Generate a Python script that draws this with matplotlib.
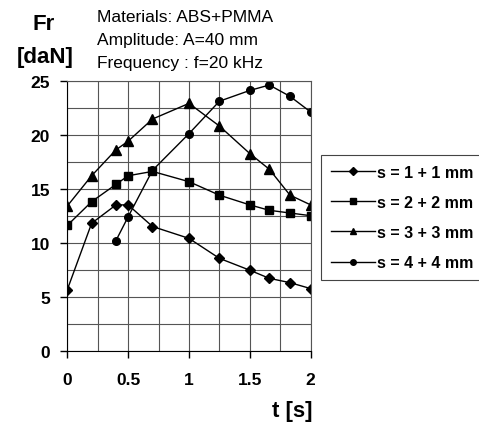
import matplotlib
matplotlib.use("Agg")
import matplotlib.pyplot as plt
from matplotlib.ticker import MultipleLocator

t = [0, 0.2, 0.4, 0.5, 0.7, 1.0, 1.25, 1.5, 1.66, 1.83, 2.0]
s1 = [5.65, 11.8, 13.5, 13.5, 11.5, 10.4, 8.55, 7.45, 6.7, 6.3, 5.75]
s2 = [11.6, 13.8, 15.4, 16.2, 16.6, 15.65, 14.4, 13.5, 13.0, 12.75, 12.5]
s3 = [13.4, 16.2, 18.6, 19.4, 21.45, 22.9, 20.8, 18.25, 16.8, 14.4, 13.5]
t4 = [0.4, 0.5, 0.7, 1.0, 1.25, 1.5, 1.66, 1.83, 2.0]
s4 = [10.2, 12.4, 16.7, 20.1, 23.1, 24.1, 24.6, 23.55, 22.1]
labels = ["s = 1 + 1 mm", "s = 2 + 2 mm", "s = 3 + 3 mm", "s = 4 + 4 mm"]
xticks = [0, 0.5, 1, 1.5, 2]
xticklabels = ["0", "0.5", "1", "1.5", "2"]
yticks = [0, 5, 10, 15, 20, 25]

plt.rcParams['font.family'] = ['Liberation Sans', 'DejaVu Sans']
W, H = 479, 427
fig = plt.figure(figsize=(W / 100, H / 100), dpi=100)
x0, x1, y0, y1 = 67.3, 310.7, 81.7, 351.7
ax = fig.add_axes([x0 / W, 1 - y1 / H, (x1 - x0) / W, (y1 - y0) / H])

h1, = ax.plot(t, s1, marker='D', markersize=5, color='black', lw=1.0, label=labels[0])
h2, = ax.plot(t, s2, marker='s', markersize=5.5, color='black', lw=1.0, label=labels[1])
h3, = ax.plot(t, s3, marker='^', markersize=6.5, color='black', lw=1.0, label=labels[2])
h4, = ax.plot(t4, s4, marker='o', markersize=5.5, color='black', lw=1.0, label=labels[3])

ax.set_xlim(0, 2)
ax.set_ylim(0, 25)
ax.xaxis.set_minor_locator(MultipleLocator(0.25))
ax.yaxis.set_minor_locator(MultipleLocator(2.5))
ax.set_xticks(xticks)
ax.set_xticklabels(xticklabels)
ax.set_yticks(yticks)
ax.grid(which='both', color='#555555', lw=0.8)
for sp in ax.spines.values():
    sp.set_color('#555555')
    sp.set_linewidth(0.8)
ax.spines['left'].set_color('black')
ax.spines['bottom'].set_color('black')
ax.tick_params(axis='both', which='major', direction='out', length=5, width=1, colors='black',
               labelsize=12.5)
ax.tick_params(axis='x', which='major', pad=10)
ax.tick_params(axis='y', which='major', pad=7.5)
ax.tick_params(which='minor', length=0)
for lab in ax.get_xticklabels() + ax.get_yticklabels():
    lab.set_fontweight('bold')
ax.set_axisbelow(True)

fig.text(44 / W, 1 - 25 / H, "Fr", fontsize=16, fontweight='bold', ha='center', va='center')
fig.text(45 / W, 1 - 58 / H, "[daN]", fontsize=16, fontweight='bold', ha='center', va='center')
fig.text(97 / W, 1 - 17 / H, "Materials: ABS+PMMA", fontsize=12.5, ha='left', va='center')
fig.text(97 / W, 1 - 41 / H, "Amplitude: A=40 mm", fontsize=12.5, ha='left', va='center')
fig.text(97 / W, 1 - 64 / H, "Frequency : f=20 kHz", fontsize=12.5, ha='left', va='center')
fig.text(292 / W, 1 - 412 / H, "t [s]", fontsize=16, fontweight='bold', ha='center', va='center')

leg = fig.legend(handles=[h1, h2, h3, h4], loc='upper left',
                 bbox_to_anchor=(321 / W, 1 - 156 / H), bbox_transform=fig.transFigure,
                 frameon=True, fancybox=False, edgecolor='#444444', framealpha=1,
                 prop={'size': 11.5, 'weight': 'bold'}, labelspacing=0.95, handlelength=2.8,
                 borderpad=0.6, handletextpad=0.1, borderaxespad=0)
leg.get_frame().set_linewidth(0.8)
for lh in leg.legend_handles:
    lh.set_markersize(4)

fig.savefig("out.png", dpi=100)
